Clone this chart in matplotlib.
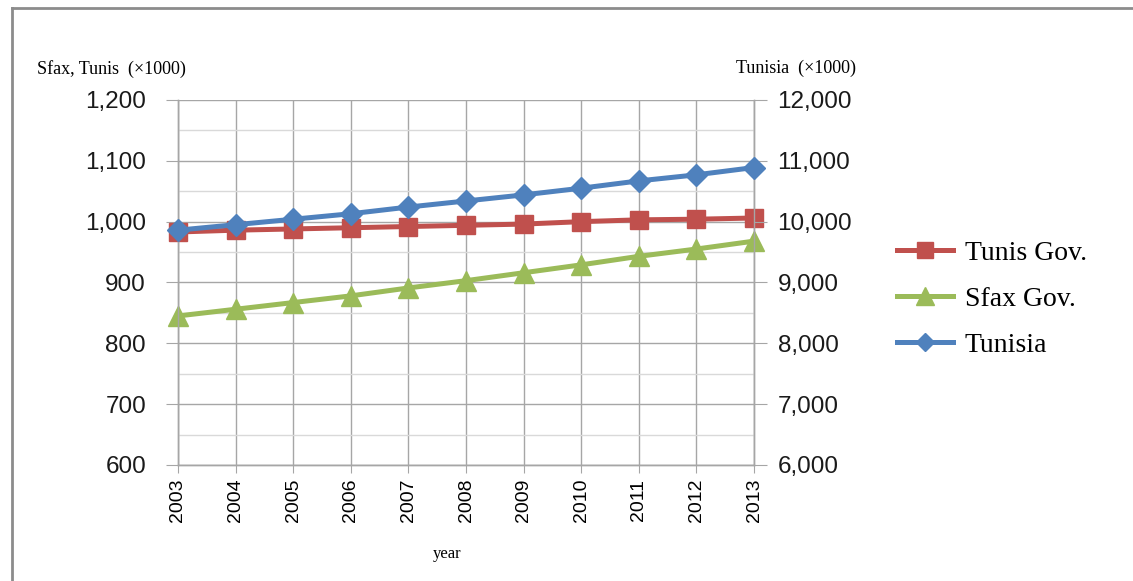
import matplotlib.pyplot as plt
from matplotlib.lines import Line2D
from matplotlib.ticker import FuncFormatter, MultipleLocator


years = [2003, 2004, 2005, 2006, 2007, 2008, 2009, 2010, 2011, 2012, 2013]
tunis_gov = [983, 986, 988, 990, 992, 994, 996, 1000, 1003, 1004, 1006]
sfax_gov = [845, 856, 867, 878, 891, 903, 916, 929, 943, 955, 968]
tunisia = [9860, 9950, 10040, 10130, 10240, 10340, 10440, 10550, 10670, 10770, 10890]

red = "#C0504D"
green = "#9BBB59"
blue = "#4F81BD"
grid_col = "#a6a6a6"
minor_col = "#d9d9d9"


def thousands(v, pos):
    return "{:,.0f}".format(v)


fig = plt.figure(figsize=(11.33, 5.81), dpi=100)
ax = fig.add_axes([0.1571, 0.1997, 0.5084, 0.6282])
ax2 = ax.twinx()

ax.plot(years, sfax_gov, color=green, lw=3.6, marker="^", ms=15,
        clip_on=False, zorder=3, label="Sfax Gov.")
ax.plot(years, tunis_gov, color=red, lw=3.6, marker="s", ms=13,
        clip_on=False, zorder=4, label="Tunis Gov.")
ax2.plot(years, tunisia, color=blue, lw=3.6, marker="D", ms=11,
         clip_on=False, zorder=5, label="Tunisia")

ax.set_xlim(2003, 2013)
ax.set_ylim(600, 1200)
ax2.set_ylim(6000, 12000)
ax.set_xticks(years)
ax.set_xticklabels([str(y) for y in years], rotation=90,
                   fontsize=14, family="Liberation Sans")

ax.yaxis.set_major_locator(MultipleLocator(100))
ax.yaxis.set_minor_locator(MultipleLocator(50))
ax.yaxis.set_major_formatter(FuncFormatter(thousands))
ax2.yaxis.set_major_locator(MultipleLocator(1000))
ax2.yaxis.set_major_formatter(FuncFormatter(thousands))

for a in (ax, ax2):
    for s in a.spines.values():
        s.set_color(grid_col)
        s.set_linewidth(1)
    a.spines["top"].set_visible(False)
    a.tick_params(axis="y", which="major", length=9, color=grid_col,
                  labelsize=17.5, labelcolor="#1a1a1a")
    a.tick_params(axis="y", which="minor", length=0)
    for lab in a.get_yticklabels():
        lab.set_family("Liberation Sans")
ax.tick_params(axis="y", pad=14)
ax2.tick_params(axis="y", pad=8)
ax.tick_params(axis="x", length=6, color=grid_col, pad=4)

ax.grid(True, which="major", color=grid_col, lw=1)
ax.grid(True, which="minor", axis="y", color=minor_col, lw=1)
ax.set_axisbelow(True)

fig.text(0.033, 0.882, "Sfax, Tunis  (×1000)", fontsize=13,
         family="Liberation Serif", va="center")
fig.text(0.650, 0.882, "Tunisia  (×1000)", fontsize=13,
         family="Liberation Serif", va="center")
fig.text(0.3945, 0.046, "year", fontsize=12, family="Liberation Serif",
         ha="center", va="center")

handles = [ax.get_lines()[1], ax.get_lines()[0], ax2.get_lines()[0]]
fig.legend(handles, [h.get_label() for h in handles],
           loc="center left", bbox_to_anchor=(0.782, 0.485),
           borderaxespad=0, frameon=False,
           prop={"family": "Liberation Serif", "size": 20},
           handlelength=2.0, handletextpad=0.43, labelspacing=0.75,
           markerscale=0.85)

# outer frame
fig.add_artist(Line2D([0.0105, 0.0105], [0.0, 0.986], color="#8c8c8c", lw=2,
                      transform=fig.transFigure))
fig.add_artist(Line2D([0.0105, 1.0], [0.986, 0.986], color="#8c8c8c", lw=2,
                      transform=fig.transFigure))

fig.savefig("out.png", dpi=100)
